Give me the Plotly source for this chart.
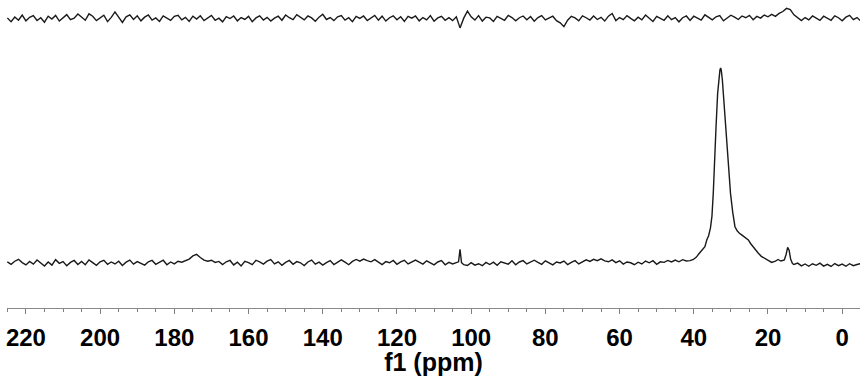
import plotly.graph_objects as go

# ---------------- data ----------------
# Upper spectrum: chemical shift (ppm) and intensity (arbitrary units)
TOP_PPM = [
    225, 224, 223, 222, 221, 220, 219, 218, 217, 216,
    215, 214, 213, 212, 211, 210, 209, 208, 207, 206,
    205, 204, 203, 202, 201, 200, 199, 198, 197, 196,
    195, 194, 193, 192, 191, 190, 189, 188, 187, 186,
    185, 184, 183, 182, 181, 180, 179, 178, 177, 176,
    175, 174, 173, 172, 171, 170, 169, 168, 167, 166,
    165, 164, 163, 162, 161, 160, 159, 158, 157, 156,
    155, 154, 153, 152, 151, 150, 149, 148, 147, 146,
    145, 144, 143, 142, 141, 140, 139, 138, 137, 136,
    135, 134, 133, 132, 131, 130, 129, 128, 127, 126,
    125, 124, 123, 122, 121, 120, 119, 118, 117, 116,
    115, 114, 113, 112, 111, 110, 109, 108, 107, 106,
    105, 104, 103, 102, 101, 100, 99, 98, 97, 96,
    95, 94, 93, 92, 91, 90, 89, 88, 87, 86,
    85, 84, 83, 82, 81, 80, 79, 78, 77, 76,
    75, 74, 73, 72, 71, 70, 69, 68, 67, 66,
    65, 64, 63, 62, 61, 60, 59, 58, 57, 56,
    55, 54, 53, 52, 51, 50, 49, 48, 47, 46,
    45, 44, 43, 42, 41, 40, 39, 38, 37, 36,
    35, 34, 33, 32, 31, 30, 29, 28, 27, 26,
    25, 24, 23, 22, 21, 20, 19, 18, 17, 16,
    15, 14, 13, 12, 11, 10, 9, 8, 7, 6,
    5, 4, 3, 2, 1, 0, -1, -2, -3, -4, -5,
]
TOP_INT = [
    0.3, -1.6, 0.8, -0.9, 1.8, -1.2, 0.6, 1.5, -1.0, 0.4,
    -1.9, 1.2, -0.3, 1.6, -1.3, 0.5, 2.0, -0.6, 0.2, 2.3,
    0.8, -0.9, 2.4, 1.2, -1.1, 0.4, 1.7, -1.6, 0.6, 3.4,
    0.5, -2.0, 0.9, 1.9, -0.5, 1.4, -1.2, 0.7, 1.8, -0.8,
    0.3, -1.5, 1.3, 0.1, -1.0, 1.1, 1.7, -0.7, 0.6, -1.5,
    1.2, -0.3, 1.4, -1.1, 0.4, 1.6, -0.9, 0.2, -1.7, 1.0,
    0.0, 1.3, -1.2, 0.5, -0.5, 1.1, -1.6, 0.3, 1.4, -0.8,
    0.6, -1.3, 0.2, 1.2, -0.9, 1.8, 0.4, -0.6, 2.0, 0.8,
    -0.7, 1.3, 0.3, -1.4, 0.7, 2.2, -0.5, 0.5, -1.1, 0.9,
    1.5, -0.8, 0.4, -1.6, 1.1, 0.1, 1.3, -1.0, 0.3, 1.6,
    -0.9, 1.2, -1.3, 0.4, 1.4, -0.6, 0.9, -1.5, 1.1, 0.2,
    1.3, -1.2, 0.5, -0.7, 1.5, -1.4, 0.3, 1.1, -0.9, 0.4,
    -1.1, 0.9, -4.8, 0.2, 3.8, 0.9, -0.8, 1.5, -1.3, 0.7,
    0.3, -1.5, 1.1, 0.1, -0.9, 1.6, 0.5, -1.2, 0.4, 1.3,
    -0.6, 1.0, -1.4, 0.5, 1.5, -0.7, 0.2, 1.2, -1.1, -2.2,
    -4.2, -0.9, 1.1, 0.3, -1.2, 1.4, 0.4, -0.8, 1.3, -0.5,
    0.6, -1.3, 1.2, 2.6, -1.1, 0.5, -0.6, 1.5, 0.1, -1.2,
    0.7, -0.7, 1.8, 0.2, -1.5, 1.1, 0.3, -0.9, 1.4, -0.6,
    0.5, -1.7, 0.4, 1.3, -1.0, 1.2, 0.2, -0.8, 1.9, 0.8,
    -0.7, 0.9, 1.5, -1.2, 0.3, 1.7, 0.7, -0.5, 1.3, 0.4,
    1.6, -0.6, 1.1, 0.2, 1.8, 0.9, 2.1, 1.1, 2.6, 3.6,
    5.2, 4.6, 1.9, 0.6, -1.1, 0.5, -0.7, 1.3, 0.3, -1.0,
    1.2, 0.2, -0.9, 1.4, 0.4, -1.2, 0.7, 1.6, -0.6, 0.5, -1.3,
]

# Lower spectrum: chemical shift (ppm) and intensity (main peak = 100)
BOTTOM_PPM = [
    225, 224, 223, 222, 221, 220, 219, 218, 217, 216,
    215, 214, 213, 212, 211, 210, 209, 208, 207, 206,
    205, 204, 203, 202, 201, 200, 199, 198, 197, 196,
    195, 194, 193, 192, 191, 190, 189, 188, 187, 186,
    185, 184, 183, 182, 181, 180, 179, 178, 177, 176,
    175, 174, 173, 172, 171, 170, 169, 168, 167, 166,
    165, 164, 163, 162, 161, 160, 159, 158, 157, 156,
    155, 154, 153, 152, 151, 150, 149, 148, 147, 146,
    145, 144, 143, 142, 141, 140, 139, 138, 137, 136,
    135, 134, 133, 132, 131, 130, 129, 128, 127, 126,
    125, 124, 123, 122, 121, 120, 119, 118, 117, 116,
    115, 114, 113, 112, 111, 110, 109, 108, 107, 106,
    105, 104, 103.4, 103.0, 102.6,
    102, 101, 100, 99, 98, 97, 96,
    95, 94, 93, 92, 91, 90, 89, 88, 87, 86,
    85, 84, 83, 82, 81, 80, 79, 78, 77, 76,
    75, 74, 73, 72, 71, 70, 69, 68, 67, 66,
    65, 64, 63, 62, 61, 60, 59, 58, 57, 56,
    55, 54, 53, 52, 51, 50, 49, 48, 47, 46,
    45, 44, 43, 42,
    41, 40.1, 39.3, 38.5, 37.8,
    37.0, 36.5, 36.0, 35.5, 35.1,
    34.75, 34.45, 34.0, 33.57, 33.2,
    32.95, 32.76, 32.6, 32.3, 32.06,
    31.4, 30.7, 30.1, 29.5, 28.9,
    28.3, 27.7, 27.0, 26.2, 25.3,
    24.7, 24.1, 23.5, 22.6, 21.8,
    21.0, 19.9, 19.0, 18.0, 17.3,
    16.5, 15.6, 15.1, 14.7, 14.3,
    13.9, 13.4,
    13, 12, 11, 10, 9, 8, 7, 6, 5, 4,
    3, 2, 1, 0, -1, -2, -3, -4, -5,
]
BOTTOM_INT = [
    0.6, -0.7, 0.9, 1.9, 0.2, -1.0, 0.8, -0.6, 1.5, 0.1,
    -1.6, 0.5, -1.1, 1.7, -0.2, 0.7, -1.4, 0.3, 1.3, -0.8,
    0.8, -0.9, 1.6, 0.2, -1.2, 0.6, 1.4, -0.7, 0.5, -0.5,
    0.9, -1.3, 0.4, 1.5, -0.6, 0.7, 0.0, -1.1, 0.6, 1.3,
    -0.7, 0.3, 1.4, -0.9, 0.5, -0.5, 0.9, 0.4, 1.2, 2.0,
    3.6, 4.4, 2.8, 1.5, 0.9, 1.4, 0.3, 0.8, -0.8, 0.6,
    1.3, -1.0, 0.4, -1.5, 0.8, 0.2, -0.9, 1.4, 0.5, -0.6,
    0.9, 1.7, -0.5, 0.6, -1.2, 0.3, 1.3, -0.7, 0.7, 0.1,
    -1.3, 0.5, 1.5, -0.6, 0.4, -1.1, 0.2, 1.2, -0.8, 0.6,
    1.6, 0.4, -0.9, 0.8, 1.8, 0.9, 2.0, 1.2, 0.6, 1.7,
    0.3, -0.8, 0.7, 0.1, 1.3, -0.7, 0.6, 1.4, -0.5, 0.5,
    1.5, 0.4, -0.6, 1.1, 0.2, -1.0, 0.5, 1.2, -0.9, 0.3,
    -0.5, 0.4, 0.6, 7.0, 0.2,
    -0.9, -1.3, 0.2, -1.1, -0.4, -1.4, 0.3,
    -0.8, 0.4, -1.2, 0.6, 0.1, -0.6, 1.1, -0.9, 0.5, 1.2,
    -0.5, 0.6, 1.4, 0.3, -0.7, 1.1, 0.2, -1.0, 0.5, 0.0,
    1.0, -0.8, 0.3, 1.2, -0.5, 0.6, 1.6, 0.8, 1.9, 1.2,
    2.1, 1.1, 0.6, 1.6, 0.2, 1.1, -0.6, 0.5, 0.1, -0.9,
    0.4, -0.5, 1.0, 0.1, 1.2, -0.7, 0.6, 0.3, 1.3, 0.5,
    1.5, 0.6, 1.7, 1.0,
    1.2, 1.8, 3.0, 5.0, 6.4,
    8.4, 11.8, 14.0, 18.0, 24.0,
    35.7, 52.8, 69.9, 87.0, 95.0,
    99.0, 100.0, 99.0, 94.0, 87.0,
    69.9, 52.8, 35.7, 26.0, 18.6,
    16.5, 15.2, 14.3, 13.2, 11.8,
    10.0, 8.4, 6.8, 5.0, 3.4,
    2.5, 1.5, 0.3, 0.9, 1.8,
    1.0, 1.6, 4.5, 8.0, 6.5,
    2.0, -0.3,
    -0.8, -0.1, -1.5, -0.5, -1.7, -0.4, -1.2, -0.1, -1.6, -0.7,
    -1.8, -0.3, -1.4, -0.6, -1.7, -0.4, -1.4, -0.8, -0.3,
]

X_TICKS = [220, 200, 180, 160, 140, 120, 100, 80, 60, 40, 20, 0]
X_TITLE = "f1 (ppm)"

assert len(TOP_PPM) == len(TOP_INT)
assert len(BOTTOM_PPM) == len(BOTTOM_INT)

# ---------------- figure ----------------
LINE = dict(color="#1a1a1a", width=1.4)
FONT = "Liberation Sans, Arial, sans-serif"

fig = go.Figure()
fig.add_trace(go.Scatter(x=BOTTOM_PPM, y=BOTTOM_INT, mode="lines", line=LINE,
                         yaxis="y", hoverinfo="skip", showlegend=False))
fig.add_trace(go.Scatter(x=TOP_PPM, y=TOP_INT, mode="lines", line=LINE,
                         yaxis="y2", hoverinfo="skip", showlegend=False))

fig.update_layout(
    width=860, height=376,
    margin=dict(l=7, r=0, t=0, b=68),
    paper_bgcolor="white", plot_bgcolor="white",
    xaxis=dict(
        range=[225.1, -4.8],
        tickmode="array", tickvals=X_TICKS,
        ticks="outside", ticklen=5, tickwidth=1, tickcolor="#808080",
        showline=True, linecolor="#8a8a8a", linewidth=1,
        showgrid=False, zeroline=False,
        tickfont=dict(family=FONT, size=24, color="black", weight="bold"),
        ticklabelstandoff=3,
        minor=dict(dtick=5, tick0=0, ticks="outside", ticklen=3,
                   tickcolor="#808080", showgrid=False),
        title=dict(text=X_TITLE, standoff=0,
                   font=dict(family=FONT, size=25, color="black", weight="bold")),
    ),
    yaxis=dict(range=[-23.1, 134.9], visible=False, fixedrange=True),
    yaxis2=dict(range=[-148.5, 9.5], visible=False, overlaying="y", fixedrange=True),
)

fig.write_html("out.html")
